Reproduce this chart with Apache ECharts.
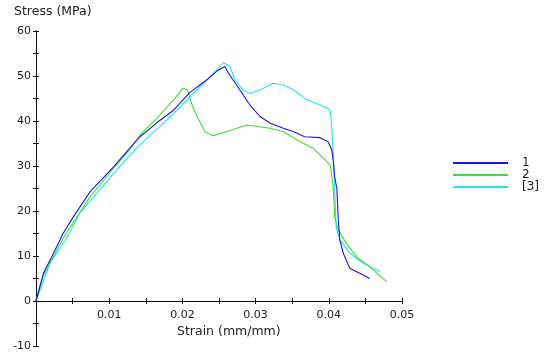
<!DOCTYPE html>
<html><head><meta charset="utf-8">
<script src="https://cdn.jsdelivr.net/npm/echarts@6/dist/echarts.min.js"></script>
<style>html,body{margin:0;padding:0;background:#fff}#c{width:544px;height:356px}</style>
</head><body><div id="c"></div>
<script>
var seriesNames = ['1', '2', '[3]'];
var xTicks = [0, 0.01, 0.02, 0.03, 0.04, 0.05];
var yTicks = [-10, 0, 10, 20, 30, 40, 50, 60];
var s1 = [[0,0],[0.001,6.1],[0.0026,11.3],[0.0037,15],[0.0051,18.7],[0.0074,24.3],[0.0106,29.8],[0.0126,33.6],[0.0142,36.5],[0.0165,39.6],[0.0188,42.4],[0.021,46.3],[0.0233,49.1],[0.0248,51.2],[0.0258,52.1],[0.0263,50.6],[0.0274,48],[0.0292,43.6],[0.0306,41],[0.032,39.5],[0.0338,38.4],[0.0352,37.6],[0.0367,36.5],[0.0388,36.3],[0.0399,35.4],[0.0404,33.6],[0.0406,31.3],[0.0408,27.6],[0.0411,25],[0.0413,18],[0.0415,13.6],[0.042,10.5],[0.0429,7.2],[0.0443,6.1],[0.0456,5.0]];
var s2 = [[0,0],[0.001,5.6],[0.0037,13.9],[0.0074,23.2],[0.0106,29.5],[0.0128,33.6],[0.0142,36.9],[0.0165,40.6],[0.0188,44.7],[0.0201,47.3],[0.0207,46.9],[0.0213,43.6],[0.022,41],[0.0231,37.6],[0.0242,36.7],[0.026,37.6],[0.0288,39.1],[0.032,38.4],[0.0338,37.6],[0.0361,35.4],[0.0379,33.9],[0.0393,31.7],[0.0402,30.2],[0.0406,25.4],[0.0408,18.7],[0.0413,15.8],[0.0424,12.8],[0.0438,9.8],[0.0456,7.6],[0.0479,4.3]];
var s3 = [[0,0],[0.0019,8.4],[0.0042,13.9],[0.006,19.6],[0.0083,23.9],[0.011,29.1],[0.0135,33.6],[0.0142,34.7],[0.0188,41.7],[0.0224,47.6],[0.0245,51],[0.0256,53],[0.0265,52.1],[0.0272,49.1],[0.0283,46.9],[0.0292,46.1],[0.0306,46.9],[0.0324,48.4],[0.0338,48],[0.0352,46.9],[0.037,44.7],[0.0388,43.6],[0.0399,42.8],[0.0402,42.4],[0.0404,39],[0.0406,33],[0.0408,25],[0.041,16.5],[0.0415,13.6],[0.0429,10.6],[0.0447,8.4],[0.047,6.5]];
var colors = ['#1616e6', '#3ddd3d', '#22e4ec'];

var font = '"DejaVu Sans", Verdana, sans-serif';
var gridTop = 31, gridBottom = 10, H = 356;
var plotH = H - gridTop - gridBottom;
var zeroOffset = -plotH * (0 - yTicks[0]) / (yTicks[yTicks.length - 1] - yTicks[0]);
var chart = echarts.init(document.getElementById('c'), null, {renderer: 'canvas'});
function xAx(inside, labels) {
  return {
    type: 'value', min: xTicks[0], max: xTicks[xTicks.length - 1], interval: 0.01,
    position: 'bottom', offset: zeroOffset,
    axisLine: {show: true, onZero: false, lineStyle: {color: '#111', width: 1}},
    axisTick: {show: true, inside: inside, length: 3, lineStyle: {color: '#111'}},
    minorTick: {show: true, splitNumber: 2, length: 3, lineStyle: {color: '#111'}},
    splitLine: {show: false},
    axisLabel: {show: labels, color: '#222', fontFamily: font, fontSize: 11, margin: 9,
      formatter: function (v) { return v === 0 ? '' : String(Math.round(v * 100) / 100); }}
  };
}
function yAx(inside, labels) {
  return {
    type: 'value', min: yTicks[0], max: yTicks[yTicks.length - 1], interval: 10, position: 'left',
    axisLine: {show: true, onZero: false, lineStyle: {color: '#111', width: 1}},
    axisTick: {show: true, inside: inside, length: 3, lineStyle: {color: '#111'}},
    minorTick: {show: true, splitNumber: 2, length: 3, lineStyle: {color: '#111'}},
    splitLine: {show: false},
    axisLabel: {show: labels, color: '#222', fontFamily: font, fontSize: 11, margin: 5}
  };
}
var data = [s1, s2, s3];
chart.setOption({
  animation: false,
  backgroundColor: '#fff',
  grid: {left: 36, right: 142, top: gridTop, bottom: gridBottom, containLabel: false, outerBoundsMode: 'none'},
  xAxis: [xAx(false, true), xAx(true, false)],
  yAxis: [yAx(false, true), yAx(true, false)],
  legend: {
    orient: 'vertical', left: 448, top: 152, itemWidth: 55, itemHeight: 2, itemGap: 0,
    icon: 'rect',
    textStyle: {color: '#222', fontFamily: font, fontSize: 12, padding: [0, 0, 0, 9]},
    data: seriesNames
  },
  graphic: [
    {type: 'text', left: 14, top: 5, style: {text: 'Stress (MPa)', fill: '#222', font: '12.5px ' + font}},
    {type: 'text', left: 177, top: 325, style: {text: 'Strain (mm/mm)', fill: '#222', font: '12.5px ' + font}}
  ],
  series: data.map(function (d, i) {
    return {
      name: seriesNames[i], type: 'line', xAxisIndex: 0, yAxisIndex: 0, data: d,
      symbol: 'none', smooth: false, color: colors[i],
      lineStyle: {width: 1.1, color: colors[i]}, z: 3 - i
    };
  })
});
</script>
</body></html>
